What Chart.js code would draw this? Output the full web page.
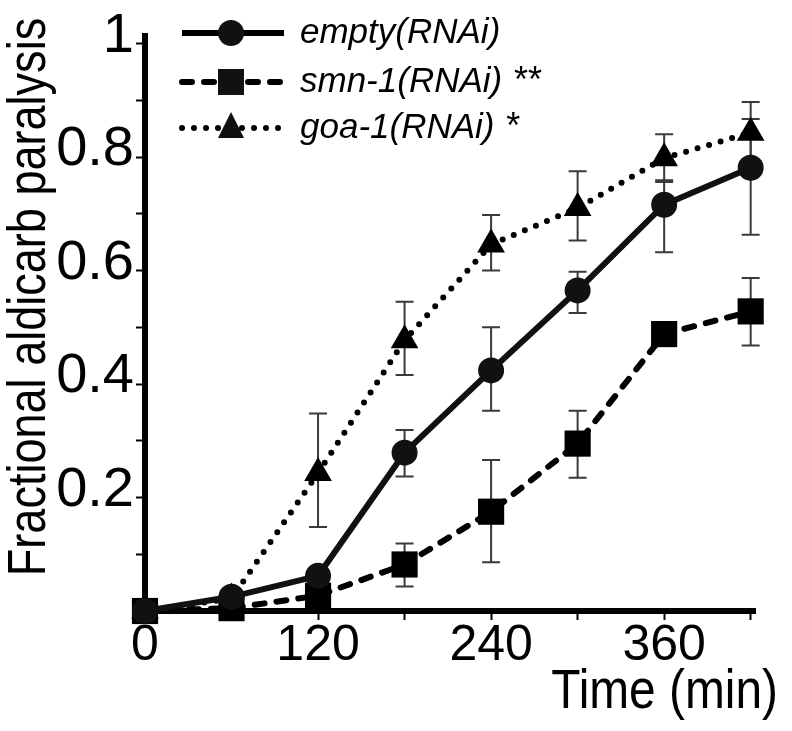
<!DOCTYPE html>
<html>
<head>
<meta charset="utf-8">
<script src="https://cdn.jsdelivr.net/npm/chart.js@4"></script>
<style>
  body { margin: 0; background: #fff; }
  canvas { display: block; }
</style>
</head>
<body>
<canvas id="chart" width="792" height="731"></canvas>
<script>
const times = [0, 60, 120, 180, 240, 300, 360, 420];

const emptyVals = [0, 0.025, 0.062, 0.279, 0.424, 0.565, 0.716, 0.781];
const emptyLow  = [null, null, null, 0.237, 0.353, 0.525, 0.632, 0.663];
const emptyHigh = [null, null, null, 0.319, 0.500, 0.598, 0.759, 0.867];

const smnVals = [0, 0.005, 0.027, 0.082, 0.175, 0.295, 0.488, 0.528];
const smnLow  = [null, null, null, 0.043, 0.086, 0.235, null, 0.468];
const smnHigh = [null, null, null, 0.119, 0.266, 0.353, null, 0.587];

const goaVals = [0, 0.022, 0.243, 0.477, 0.646, 0.710, 0.798, 0.843];
const goaLow  = [null, null, 0.148, 0.416, 0.600, 0.653, 0.756, 0.790];
const goaHigh = [null, null, 0.348, 0.545, 0.698, 0.775, 0.840, 0.897];

const seriesNames = ['empty(RNAi)', 'smn-1(RNAi)', 'goa-1(RNAi)'];
const seriesStars = ['', '**', '*'];

const xTickTimes = [0, 60, 120, 180, 240, 300, 360, 420];
const xLabelTimes = [0, 120, 240, 360];
const yTickValues = [0.1, 0.2, 0.3, 0.4, 0.5, 0.6, 0.7, 0.8, 0.9, 1];
const yLabelValues = [0.2, 0.4, 0.6, 0.8, 1];

const xTitle = 'Time (min)';
const yTitle = 'Fractional aldicarb paralysis';

const SANS = "'Liberation Sans', Arial, sans-serif";

const toPoints = vals => times.map((t, i) => ({ x: t, y: vals[i] }));

// error bars, drawn under the markers
const errorBars = {
  id: 'errorBars',
  beforeDatasetsDraw(chart) {
    const { ctx, scales: { x, y } } = chart;
    ctx.save();
    ctx.strokeStyle = '#3a3a3a';
    ctx.lineWidth = 2;
    chart.data.datasets.forEach(ds => {
      times.forEach((t, i) => {
        if (ds.errLow[i] == null) return;
        const px = x.getPixelForValue(t);
        const lo = y.getPixelForValue(ds.errLow[i]);
        const hi = y.getPixelForValue(ds.errHigh[i]);
        ctx.beginPath();
        ctx.moveTo(px, lo); ctx.lineTo(px, hi);
        ctx.moveTo(px - 9, lo); ctx.lineTo(px + 9, lo);
        ctx.moveTo(px - 9, hi); ctx.lineTo(px + 9, hi);
        ctx.stroke();
      });
    });
    ctx.restore();
  }
};

function marker(ctx, style, x, y) {
  ctx.beginPath();
  if (style === 'circle') {
    ctx.arc(x, y, 13, 0, Math.PI * 2);
  } else if (style === 'rect') {
    ctx.rect(x - 13, y - 13, 26, 26);
  } else {
    ctx.moveTo(x, y - 16);
    ctx.lineTo(x + 13, y + 10);
    ctx.lineTo(x - 13, y + 10);
    ctx.closePath();
  }
  ctx.fill();
}

// legend (italic names, plain asterisks) and the two condensed axis titles
const extras = {
  id: 'extras',
  afterDraw(chart) {
    const { ctx } = chart;
    const rows = [33, 82, 128];
    ctx.save();
    chart.data.datasets.forEach((ds, i) => {
      const yy = rows[i];
      ctx.strokeStyle = '#000';
      ctx.lineWidth = ds.borderWidth;
      ctx.lineCap = ds.borderCapStyle;
      ctx.setLineDash(ds.borderDash);
      ctx.beginPath();
      ctx.moveTo(182, yy); ctx.lineTo(284, yy);
      ctx.stroke();
      ctx.setLineDash([]);
      ctx.fillStyle = '#111';
      marker(ctx, ds.pointStyle, 231, yy);
      ctx.fillStyle = '#000';
      ctx.textBaseline = 'middle';
      ctx.textAlign = 'left';
      ctx.font = 'italic 35px ' + SANS;
      ctx.fillText(seriesNames[i], 300, yy);
      if (seriesStars[i]) {
        const w = ctx.measureText(seriesNames[i] + ' ').width;
        ctx.font = '36px ' + SANS;
        ctx.fillText(seriesStars[i], 302 + w, yy);
      }
    });
    ctx.fillStyle = '#000';
    ctx.textBaseline = 'alphabetic';

    ctx.save();
    ctx.translate(778, 708);
    ctx.scale(0.87, 1);
    ctx.font = '55px ' + SANS;
    ctx.textAlign = 'right';
    ctx.fillText(xTitle, 0, 0);
    ctx.restore();

    ctx.translate(45, 297);
    ctx.rotate(-Math.PI / 2);
    ctx.scale(0.85, 1);
    ctx.textAlign = 'center';
    ctx.font = '53px ' + SANS;
    ctx.fillText(yTitle, 0, 0);
    ctx.restore();
  }
};

new Chart(document.getElementById('chart'), {
  type: 'line',
  data: {
    datasets: [
      {
        label: seriesNames[0],
        data: toPoints(emptyVals),
        errLow: emptyLow, errHigh: emptyHigh,
        borderColor: '#111', borderWidth: 6, borderDash: [],
        borderCapStyle: 'butt',
        pointStyle: 'circle', pointRadius: 13, pointBackgroundColor: '#111',
        pointBorderWidth: 0
      },
      {
        label: seriesNames[1],
        data: toPoints(smnVals),
        errLow: smnLow, errHigh: smnHigh,
        borderColor: '#000', borderWidth: 6, borderDash: [10, 12],
        borderCapStyle: 'round',
        pointStyle: 'rect', pointRadius: 18.5, pointBackgroundColor: '#000',
        pointBorderWidth: 0
      },
      {
        label: seriesNames[2],
        data: toPoints(goaVals),
        errLow: goaLow, errHigh: goaHigh,
        borderColor: '#000', borderWidth: 6, borderDash: [0, 12],
        borderCapStyle: 'round',
        pointStyle: 'triangle', pointRadius: 16, pointBackgroundColor: '#000',
        pointBorderWidth: 0
      }
    ]
  },
  options: {
    responsive: false,
    animation: false,
    devicePixelRatio: 1,
    clip: false,
    elements: { line: { tension: 0, fill: false } },
    layout: { padding: { top: 22, right: 37, left: 0, bottom: 0 } },
    plugins: { legend: { display: false }, tooltip: { enabled: false } },
    scales: {
      x: {
        type: 'linear', min: 0, max: 423,
        afterFit: s => { s.height = 120; },
        afterBuildTicks: s => { s.ticks = xTickTimes.map(v => ({ value: v })); },
        border: { display: true, width: 6, color: '#000' },
        grid: { drawOnChartArea: false, drawTicks: true, tickLength: 9, tickWidth: 2, tickColor: '#000' },
        ticks: {
          autoSkip: false, maxRotation: 0, padding: -4, color: '#000',
          font: { family: SANS, size: 50 },
          callback: v => xLabelTimes.includes(v) ? String(v) : ''
        }
      },
      y: {
        min: 0, max: 1.014,
        afterFit: s => { s.width = 145; },
        afterBuildTicks: s => { s.ticks = yTickValues.map(v => ({ value: v })); },
        border: { display: true, width: 6, color: '#000' },
        grid: { drawOnChartArea: false, drawTicks: true, tickLength: 9, tickWidth: 2, tickColor: '#000' },
        ticks: {
          autoSkip: false, padding: 2, labelOffset: -7, color: '#000',
          font: { family: SANS, size: 56 },
          callback: v => yLabelValues.includes(v) ? String(v) : ''
        }
      }
    }
  },
  plugins: [errorBars, extras]
});
</script>
</body>
</html>
